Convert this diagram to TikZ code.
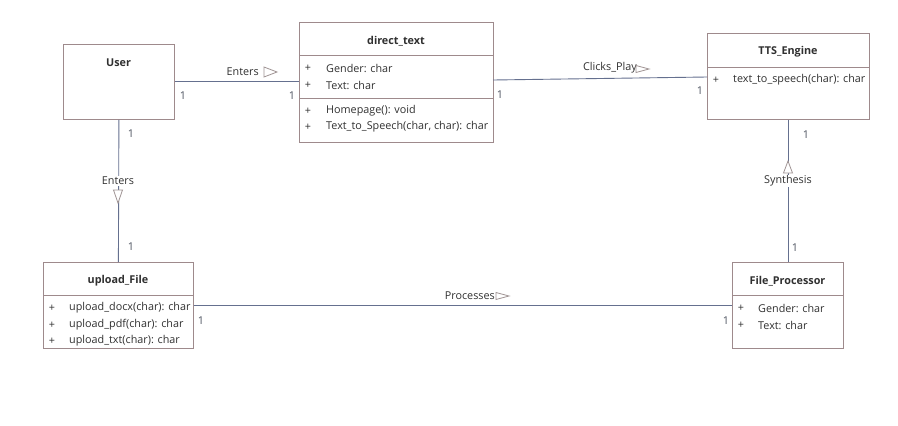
\documentclass[tikz,border=0pt]{standalone}
\usepackage{fontspec}
\setmainfont{Open Sans}
\definecolor{boxc}{HTML}{9E8A8C}
\definecolor{linec}{HTML}{65708F}
\definecolor{txtc}{HTML}{303030}
\definecolor{mulc}{HTML}{505662}
\definecolor{tric}{HTML}{A09494}
\begin{document}
\begin{tikzpicture}[x=1pt,y=-1pt,
  box/.style={draw=boxc, line width=0.8pt, inner sep=0pt, anchor=north west, fill=white},
  divider/.style={draw=boxc, line width=0.8pt},
  title/.style={font=\fontsize{10.8}{12}\selectfont\bfseries, text=txtc, inner sep=0pt},
  attr/.style={font=\fontsize{10.8}{12}\selectfont, text=txtc, inner sep=0pt, anchor=west},
  plus/.style={font=\fontsize{10.8}{12}\selectfont, text=txtc, inner sep=0pt},
  conn/.style={draw=linec, line width=0.9pt},
  lbl/.style={font=\fontsize{10.8}{12}\selectfont, text=txtc, inner sep=1pt},
  mult/.style={font=\fontsize{10.8}{12}\selectfont, text=mulc, inner sep=0pt},
  tri/.style={draw=tric, line width=0.8pt, fill=white, line join=miter}
]
\useasboundingbox[fill=white] (0,0) rectangle (898,426);

\coordinate (dta) at (493,80);
\coordinate (ttsa) at (707,77);

% boxes
\node[box, minimum width=111pt, minimum height=75pt] (user) at (63,44) {};
\node[box, minimum width=194pt, minimum height=120pt] (dt) at (299,22) {};
\node[box, minimum width=162pt, minimum height=86pt] (tts) at (707,33) {};
\node[box, minimum width=150pt, minimum height=86pt] (up) at (43,262) {};
\node[box, minimum width=111pt, minimum height=86pt] (fp) at (732,262) {};

% connectors
\draw[conn] (user.east) -- (user.east -| dt.west);
\draw[conn] (dta) -- (ttsa);
\draw[conn] (user.south) -- (up.north);
\draw[conn] (tts.south) -- (tts.south |- fp.north);
\draw[conn] (up.east) -- (up.east -| fp.west);

% dividers
\draw[divider] (dt.west |- 0,55) -- (dt.east |- 0,55);
\draw[divider] (dt.west |- 0,98) -- (dt.east |- 0,98);
\draw[divider] (tts.west |- 0,67) -- (tts.east |- 0,67);
\draw[divider] (up.west |- 0,295) -- (up.east |- 0,295);
\draw[divider] (fp.west |- 0,295) -- (fp.east |- 0,295);

% titles
\node[title] (userT) at (118.5,63) {User};
\node[title] (dtT) at (396,41) {direct\_text};
\node[title] (ttsT) at (788,52) {TTS\_Engine};
\node[title] (upT) at (118,281) {upload\_File};
\node[title] (fpT) at (787.5,281) {File\_Processor};

% direct_text members
\node[plus] (dp1) at (308,68) {+};
\node[attr] (da1) at (326,68) {Gender: char};
\node[plus] (dp2) at (308,85) {+};
\node[attr] (da2) at (326,85) {Text: char};
\node[plus] (dp3) at (308,111) {+};
\node[attr] (dm1) at (326,111) {Homepage(): void};
\node[plus] (dp4) at (308,127) {+};
\node[attr] (dm2) at (326,127) {Text\_to\_Speech(char, char): char};

% TTS members
\node[plus] (tp1) at (716,80) {+};
\node[attr] (tm1) at (733,80) {text\_to\_speech(char): char};

% upload members
\node[plus] (up1) at (52,308) {+};
\node[attr] (um1) at (69,308) {upload\_docx(char): char};
\node[plus] (up2) at (52,325) {+};
\node[attr] (um2) at (69,325) {upload\_pdf(char): char};
\node[plus] (up3) at (52,341) {+};
\node[attr] (um3) at (69,341) {upload\_txt(char): char};

% file processor members
\node[plus] (fp1) at (741,308) {+};
\node[attr] (fa1) at (758,308) {Gender: char};
\node[plus] (fp2) at (741,325) {+};
\node[attr] (fa2) at (758,325) {Text: char};

% labels
\node[lbl, anchor=east] (l1) at (260,72) {Enters};
\draw[tri] (264,67) -- (277,72) -- (264,77) -- cycle;
\node[lbl, anchor=east] (l2) at (638,68) {Clicks\_Play};
\draw[tri] (636,65.5) -- (649,69) -- (636,72.5) -- cycle;
\node[lbl, fill=white] (l3) at (118,181) {Enters};
\draw[tri] (113.5,190) -- (122.5,190) -- (118,203) -- cycle;
\node[lbl, fill=white] (l4) at (788,181) {Synthesis};
\draw[tri] (783.5,173) -- (792.5,173) -- (788,161) -- cycle;
\node[lbl, anchor=east] (l5) at (496,296) {Processes};
\draw[tri] (496,292.5) -- (509,296) -- (496,299.5) -- cycle;

% multiplicities
\node[mult] (m1) at (183,96) {1};
\node[mult] (m2) at (292,96) {1};
\node[mult] (m3) at (500,95) {1};
\node[mult] (m4) at (700,91) {1};
\node[mult] (m5) at (131,134) {1};
\node[mult] (m6) at (131,247) {1};
\node[mult] (m7) at (806,135) {1};
\node[mult] (m8) at (795,248) {1};
\node[mult] (m9) at (201,321) {1};
\node[mult] (m10) at (726,321) {1};
\end{tikzpicture}
\end{document}
